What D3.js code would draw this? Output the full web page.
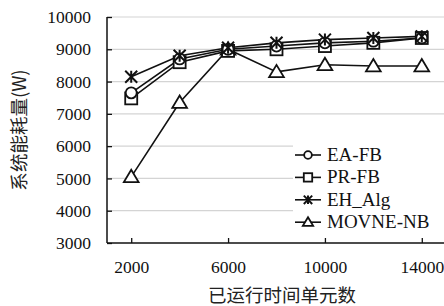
<!DOCTYPE html>
<html>
<head>
<meta charset="utf-8">
<script src="https://cdn.jsdelivr.net/npm/d3@7"></script>
<style>
  body { margin: 0; background: #fff; }
  svg { display: block; }
</style>
</head>
<body>
<div id="chart-area"></div>
<script>
// data
var steps = ["2000", "4000", "6000", "8000", "10000", "12000", "14000"];
var xLabels = ["2000", "6000", "10000", "14000"];
var yTicks = [3000, 4000, 5000, 6000, 7000, 8000, 9000, 10000];

var eaFb   = [7650, 8700, 9000, 9100, 9200, 9250, 9350];
var prFb   = [7480, 8600, 8950, 9000, 9100, 9200, 9350];
var ehAlg  = [8150, 8800, 9050, 9200, 9300, 9350, 9400];
var movne  = [5050, 7350, 9000, 8300, 8520, 8480, 8480];

var names = ["EA-FB", "PR-FB", "EH_Alg", "MOVNE-NB"];
var shapes = ["circle", "square", "star", "triangle"];

var series = [
    { name: names[0], shape: shapes[0], values: eaFb },
    { name: names[1], shape: shapes[1], values: prFb },
    { name: names[2], shape: shapes[2], values: ehAlg },
    { name: names[3], shape: shapes[3], values: movne }
];

var W = 444, H = 306;
var plotL = 107, plotR = 446, plotT = 17, plotB = 243;

var svg = d3.select('#chart-area').append('svg')
    .attr('width', W)
    .attr('height', H);

var x = d3.scalePoint()
    .domain(steps)
    .range([plotL, plotR])
    .padding(0.5);

var y = d3.scaleLinear()
    .domain([3000, 10000])
    .range([plotB, plotT]);

// horizontal grid
svg.append('g').selectAll('line')
    .data(yTicks.slice(1))
    .enter().append('line')
        .attr('x1', plotL).attr('x2', W)
        .attr('y1', d => y(d)).attr('y2', d => y(d))
        .attr('stroke', '#d4d4d4')
        .attr('stroke-width', 1.2);

// y axis
var yAxis = svg.append('g')
    .attr('transform', 'translate(' + plotL + ',0)')
    .call(d3.axisLeft(y).tickValues(yTicks).tickSizeInner(-5).tickSizeOuter(0).tickPadding(16).tickFormat(d3.format('d')));

// x axis
var xAxis = svg.append('g')
    .attr('transform', 'translate(0,' + plotB + ')')
    .call(d3.axisBottom(x).tickValues(xLabels).tickSizeInner(-5).tickSizeOuter(0).tickPadding(18));

svg.selectAll('.tick text')
    .attr('font-family', '"Liberation Serif", serif')
    .attr('font-size', 17.5)
    .attr('fill', '#111');
svg.selectAll('.tick line').attr('stroke', '#111').attr('stroke-width', 1.3);
svg.selectAll('.domain').attr('stroke', '#111').attr('stroke-width', 1.5);
xAxis.select('.domain').attr('d', 'M' + plotL + ',0H' + W);
yAxis.select('.domain').attr('d', 'M0,' + plotB + 'V' + plotT);

// marker drawing
function drawMarker(g, shape, s) {
    if (shape === 'circle') {
        g.append('circle').attr('r', s * 0.55).attr('fill', '#fff').attr('stroke', '#111').attr('stroke-width', 1.8);
    } else if (shape === 'square') {
        g.append('rect').attr('x', -s * 0.6).attr('y', -s * 0.6).attr('width', s * 1.2).attr('height', s * 1.2)
            .attr('fill', '#fff').attr('stroke', '#111').attr('stroke-width', 1.8);
    } else if (shape === 'star') {
        var a = s * 0.6;
        g.append('path')
            .attr('d', 'M' + (-a) + ',' + (-a) + 'L' + a + ',' + a + 'M' + (-a) + ',' + a + 'L' + a + ',' + (-a) + 'M0,' + (-a) + 'V' + a)
            .attr('stroke', '#111').attr('stroke-width', 2).attr('fill', 'none');
    } else {
        var t = s * 0.7;
        g.append('path')
            .attr('d', 'M0,' + (-t) + 'L' + (t * 1.05) + ',' + (t * 0.75) + 'L' + (-t * 1.05) + ',' + (t * 0.75) + 'Z')
            .attr('fill', '#fff').attr('stroke', '#111').attr('stroke-width', 1.8);
    }
}

var line = d3.line()
    .x((d, i) => x(steps[i]))
    .y(d => y(d));

// triangle series first, others on top
var order = [3, 1, 0, 2];
order.forEach(function (k) {
    svg.append('path')
        .datum(series[k].values)
        .attr('d', line)
        .attr('fill', 'none')
        .attr('stroke', '#111')
        .attr('stroke-width', 1.6);
});
order.forEach(function (k) {
    var s = series[k];
    s.values.forEach(function (v, i) {
        var g = svg.append('g').attr('transform', 'translate(' + x(steps[i]) + ',' + y(v) + ')');
        drawMarker(g, s.shape, 10);
    });
});

// legend
var lg = svg.append('g');
lg.append('rect')
    .attr('x', 293).attr('y', 141).attr('width', W - 293).attr('height', 93)
    .attr('fill', '#fff');
series.forEach(function (s, i) {
    var ly = 155 + i * 22.4;
    lg.append('line')
        .attr('x1', 295).attr('x2', 321)
        .attr('y1', ly).attr('y2', ly)
        .attr('stroke', '#111').attr('stroke-width', 1.6);
    var g = lg.append('g').attr('transform', 'translate(308,' + ly + ')');
    drawMarker(g, s.shape, 7);
    lg.append('text')
        .attr('x', 327).attr('y', ly + 6)
        .attr('font-family', '"Liberation Serif", serif')
        .attr('font-size', 19)
        .attr('fill', '#111')
        .text(s.name);
});

// axis titles
svg.append('text')
    .attr('x', 282).attr('y', 302)
    .attr('text-anchor', 'middle')
    .attr('font-family', '"Noto Sans CJK SC", sans-serif')
    .attr('font-size', 18.5)
    .attr('fill', '#222')
    .text('已运行时间单元数');

svg.append('text')
    .attr('transform', 'translate(26,130) rotate(-90)')
    .attr('text-anchor', 'middle')
    .attr('font-family', '"Noto Sans CJK SC", sans-serif')
    .attr('font-size', 18.5)
    .attr('fill', '#222')
    .text('系统能耗量(W)');
</script>
</body>
</html>
